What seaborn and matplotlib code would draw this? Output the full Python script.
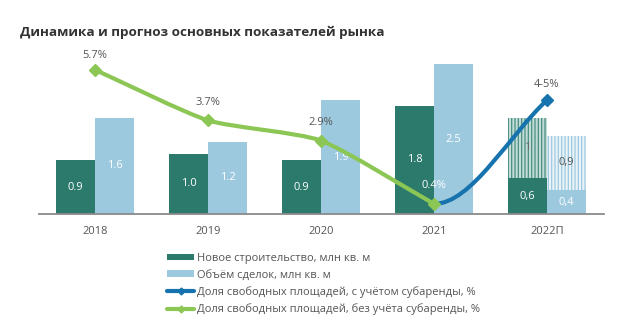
import numpy as np
import pandas as pd
import matplotlib
matplotlib.use("Agg")
import matplotlib.pyplot as plt
from matplotlib.path import Path
from matplotlib.patches import PathPatch, Patch
from matplotlib.lines import Line2D
import seaborn as sns

# ---- data ----
years = ["2018", "2019", "2020", "2021", "2022П"]
new_construction = [0.9, 1.0, 0.9, 1.8, 0.6]
deal_volume = [1.6, 1.2, 1.9, 2.5, 0.4]
new_construction_labels = ["0.9", "1.0", "0.9", "1.8", "0,6"]
deal_volume_labels = ["1.6", "1.2", "1.9", "2.5", "0,4"]
forecast_new_extra = [1.0]
forecast_deal_extra = [0.9]
forecast_new_extra_labels = ["1"]
forecast_deal_extra_labels = ["0,9"]
vacancy_no_sublease = [5.7, 3.7, 2.9, 0.4]          # 2018-2021
vacancy_sublease_years = ["2021", "2022П"]
vacancy_sublease = [0.4, 4.5]
vacancy_sublease_label = "4-5%"

series_names = ["Новое строительство, млн кв. м", "Объём сделок, млн кв. м"]
line_names = ["Доля свободных площадей, с учётом субаренды, %",
              "Доля свободных площадей, без учёта субаренды, %"]
title = "Динамика и прогноз основных показателей рынка"

DARK = "#2b7a6c"
LIGHT = "#9dc9df"
BLUE = "#1673ae"
GREEN = "#8cc655"
GRAY_TXT = "#555555"

sns.set_theme(style="white")
plt.rcParams["font.family"] = ["Open Sans", "DejaVu Sans"]
plt.rcParams["hatch.linewidth"] = 0.9

fig = plt.figure(figsize=(6.28, 3.36), dpi=100)
ax = fig.add_axes([38.5 / 628, 122 / 336, 565 / 628, 169 / 336])

df = pd.DataFrame({
    "year": years * 2,
    "value": new_construction + deal_volume,
    "series": [series_names[0]] * len(years) + [series_names[1]] * len(years),
})
sns.barplot(data=df, x="year", y="value", hue="series", order=years,
            hue_order=series_names, palette=[DARK, LIGHT], width=0.69,
            saturation=1, ax=ax, legend=False, linewidth=0, errorbar=None)

bw = 0.345
off = bw / 2
# forecast hatched extensions
xi = years.index("2022П")
ax.bar([xi - off], forecast_new_extra, width=bw, bottom=[new_construction[xi]],
       facecolor="#c2dcd7", edgecolor="#4a8e81", hatch="|||||", linewidth=0)
ax.bar([xi + off], forecast_deal_extra, width=bw, bottom=[deal_volume[xi]],
       facecolor="#eaf3f8", edgecolor=LIGHT, hatch="|||||", linewidth=0)

# bar labels
for i in range(len(years)):
    ax.text(i - off, new_construction[i] / 2, new_construction_labels[i],
            ha="center", va="center", color="white", fontsize=8)
    ax.text(i + off, deal_volume[i] / 2, deal_volume_labels[i],
            ha="center", va="center", color="white", fontsize=8)
ax.text(xi - off, new_construction[xi] + forecast_new_extra[0] / 2,
        forecast_new_extra_labels[0], ha="center", va="center",
        color="#666666", fontsize=8)
ax.text(xi + off, deal_volume[xi] + forecast_deal_extra[0] / 2,
        forecast_deal_extra_labels[0], ha="center", va="center",
        color=GRAY_TXT, fontsize=8)

ax.set_xlim(-0.5, len(years) - 0.5)
ax.set_ylim(0, 169 / 60)
ax.set_xlabel("")
ax.set_ylabel("")
ax.set_yticks([])
for s in ["top", "right", "left"]:
    ax.spines[s].set_visible(False)
ax.spines["bottom"].set_color("#8a8a8a")
ax.spines["bottom"].set_linewidth(1.3)
ax.tick_params(axis="x", length=0, pad=9, labelsize=8, labelcolor=GRAY_TXT)

# secondary axis for percentages
ax2 = ax.twinx()
ax2.set_ylim(0, 169 / 25.3)
ax2.set_yticks([])
for s in ax2.spines.values():
    s.set_visible(False)


def smooth_path(xs, ys, tension=0.6, start_tan=None, end_tan=None):
    pts = np.column_stack([xs, ys]).astype(float)
    n = len(pts)
    tans = []
    for i in range(n):
        if i == 0:
            t = pts[1] - pts[0]
        elif i == n - 1:
            t = pts[-1] - pts[-2]
        else:
            t = (pts[i + 1] - pts[i - 1]) / 2
        tans.append(t * tension)
    if start_tan is not None:
        tans[0] = np.asarray(start_tan, float)
    if end_tan is not None:
        tans[-1] = np.asarray(end_tan, float)
    verts = [pts[0]]
    codes = [Path.MOVETO]
    for i in range(n - 1):
        verts += [pts[i] + tans[i] / 3, pts[i + 1] - tans[i + 1] / 3, pts[i + 1]]
        codes += [Path.CURVE4] * 3
    return Path(verts, codes)


gx = [years.index(y) for y in years[:len(vacancy_no_sublease)]]
bx = [years.index(y) for y in vacancy_sublease_years]

# blue line (with sublease)
bp = smooth_path(bx, vacancy_sublease, start_tan=(1, 0),
                 end_tan=(bx[1] - bx[0], vacancy_sublease[1] - vacancy_sublease[0]))
ax2.add_patch(PathPatch(bp, facecolor="none", edgecolor=BLUE, lw=3, capstyle="round", zorder=4))
ax2.plot([bx[-1]], [vacancy_sublease[-1]], marker="D", ms=6, color=BLUE, zorder=5)

# green line (without sublease)
gp = smooth_path(gx, vacancy_no_sublease, tension=0.6)
ax2.add_patch(PathPatch(gp, facecolor="none", edgecolor=GREEN, lw=3, capstyle="round", zorder=5))
ax2.plot(gx, vacancy_no_sublease, ls="none", marker="D", ms=6, color=GREEN, zorder=6)

for x, v in zip(gx, vacancy_no_sublease):
    col = "white" if v < 1 else GRAY_TXT
    dy = 14 if v > 5 else 18
    ax2.annotate(f"{v:.1f}%", (x, v), xytext=(0, dy), textcoords="offset pixels",
                 ha="center", va="center", fontsize=8, color=col, zorder=7)
ax2.annotate(vacancy_sublease_label, (bx[-1], vacancy_sublease[-1]), xytext=(0, 16),
             textcoords="offset pixels", ha="center", va="center",
             fontsize=8, color=GRAY_TXT, zorder=7)

fig.text(20 / 628, 1 - 32 / 336, title, ha="left", va="center",
         fontsize=9.7, fontweight="bold", color="#333333")

handles = [
    Patch(facecolor=DARK, edgecolor="none"),
    Patch(facecolor=LIGHT, edgecolor="none"),
    Line2D([0], [0], color=BLUE, lw=3, marker="D", ms=3.5),
    Line2D([0], [0], color=GREEN, lw=3, marker="D", ms=3.5),
]
leg = fig.legend(handles, series_names + line_names, loc="upper left",
                 bbox_to_anchor=(167 / 628, 1 - 253 / 336), frameon=False,
                 fontsize=8, handlelength=2.45, handleheight=0.55,
                 handletextpad=0.25, labelspacing=0.5, borderpad=0,
                 borderaxespad=0)
for t in leg.get_texts():
    t.set_color(GRAY_TXT)

fig.savefig("out.png", dpi=100)
